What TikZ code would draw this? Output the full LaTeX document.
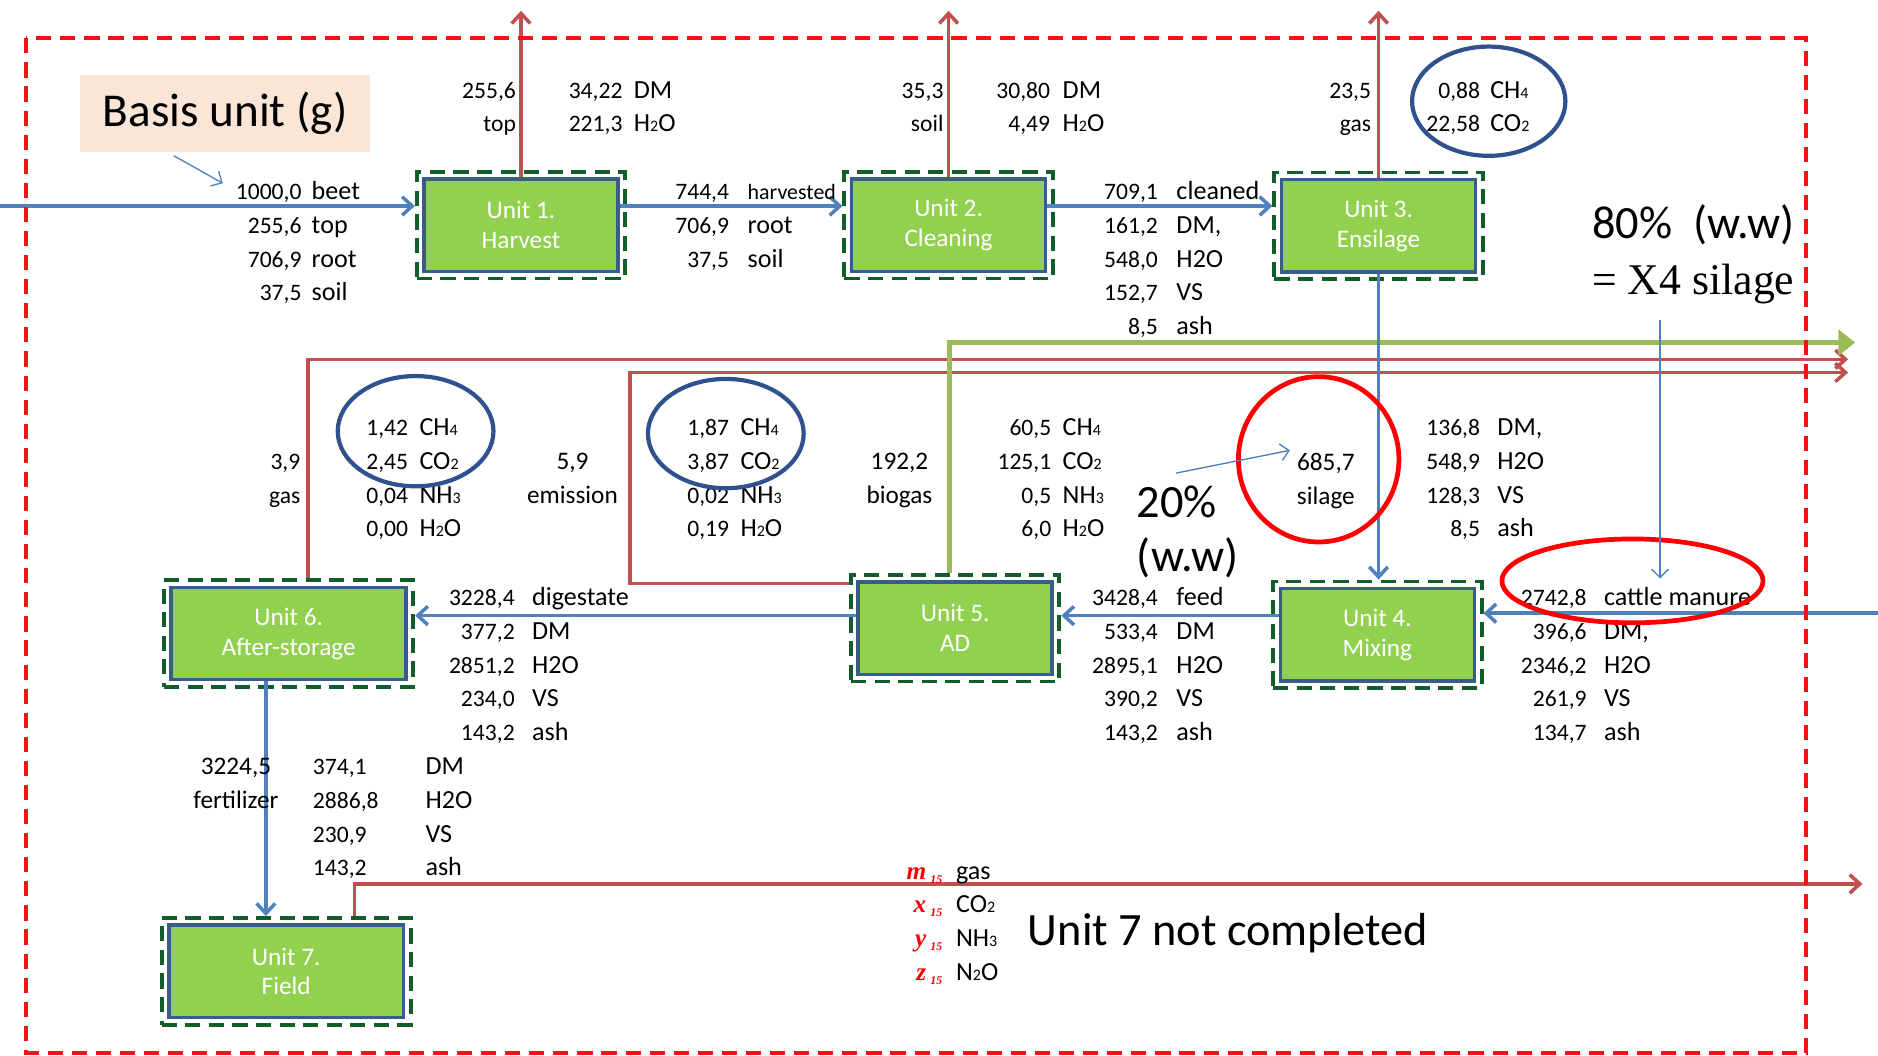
\documentclass[tikz,border=0pt]{standalone}
\usepackage{fontspec}
\setmainfont{Carlito}
\newfontfamily\serifface{Liberation Serif}
\usepackage{tikz}
\usetikzlibrary{arrows.meta,fit}

\definecolor{unitgreen}{RGB}{146,208,80}
\definecolor{unitblue}{RGB}{56,93,138}
\definecolor{framegreen}{RGB}{18,94,42}
\definecolor{borderred}{RGB}{240,20,20}
\definecolor{flowblue}{RGB}{79,129,189}
\definecolor{flowred}{RGB}{192,80,77}
\definecolor{flowgreen}{RGB}{155,187,89}
\definecolor{ringblue}{RGB}{47,82,143}
\definecolor{basisfill}{RGB}{251,229,214}
\definecolor{varred}{RGB}{255,0,0}

\newcommand{\numfont}{\fontsize{14}{20}\selectfont}
\newcommand{\labfont}{\fontsize{15.5}{20}\selectfont}
\newcommand{\bigfont}{\fontsize{27.5}{33}\selectfont}
\newcommand{\chsub}[1]{{\fontsize{9.5}{9.5}\selectfont #1}}
\newcommand{\varsym}[1]{{\color{varred}\serifface\bfseries\itshape #1\,\raisebox{-2.5pt}{\fontsize{7}{7}\selectfont 15}}}

\tikzset{
	unitbox/.style={draw=unitblue, line width=2.1pt, fill=unitgreen, text=white, align=center,
		minimum width=4.05cm, minimum height=1.925cm, font=\fontsize{15}{17.7}\selectfont},
	unitframe/.style={draw=framegreen, line width=2.3pt, dash pattern=on 9pt off 5pt, inner sep=3.2pt},
	basisbox/.style={fill=basisfill, minimum width=6.05cm, minimum height=1.6cm, font=\fontsize{28}{32}\selectfont},
	numcol/.style={font=\numfont, align=right, anchor=base east, inner sep=0pt},
	labcol/.style={font=\labfont, align=left, anchor=base west, inner sep=0pt},
	midcol/.style={font=\fontsize{15}{20}\selectfont, align=center, anchor=base, inner sep=0pt},
	bigtext/.style={font=\bigfont, anchor=west, inner sep=0pt},
	flow/.style={draw=flowblue, line width=2.1pt, -{Straight Barb[length=6pt,width=11pt]}},
	emit/.style={draw=flowred, line width=2.1pt, -{Straight Barb[length=6pt,width=11pt]}},
	biogas/.style={draw=flowgreen, line width=3.2pt, -{Triangle[length=10pt,width=15pt]}},
	hint/.style={draw=flowblue, line width=0.8pt, -{Straight Barb[length=5pt,width=10pt]}},
	ring/.style={draw=ringblue, line width=2.5pt},
	redring/.style={draw=red, line width=2.8pt},
	border/.style={draw=borderred, line width=2.3pt, dash pattern=on 9pt off 5.3pt}
}

\begin{document}
\begin{tikzpicture}[x=0.025cm,y=-0.025cm]
	\useasboundingbox (0,0) rectangle (1568,881);

	\node[basisbox] (basis) at (188,94.5) {Basis unit (g)};

	% units
	\node[unitbox] (u1) at (435,188) {Unit 1.\\Harvest};
	\node[unitbox] (u2) at (792,188) {Unit 2.\\Cleaning};
	\node[unitbox] (u3) at (1151,188.5) {Unit 3.\\Ensilage};
	\node[unitbox] (u4) at (1150,530) {Unit 4.\\Mixing};
	\node[unitbox] (u5) at (797.5,524.5) {Unit 5.\\AD};
	\node[unitbox,minimum width=4.9cm] (u6) at (241,529) {Unit 6.\\After-storage};
	\node[unitbox,minimum width=4.9cm] (u7) at (239,811) {Unit 7.\\Field};
	\foreach \i in {1,...,7}
		\node[unitframe,fit=(u\i)] (f\i) {};

	\coordinate (row1) at (0,172);
	\coordinate (row5) at (0,514);
	\coordinate (sky) at (0,9);
	\coordinate (beetin) at (0,172);
	\coordinate (manin) at (1568,512);
	\coordinate (x67) at (222,0);
	\coordinate (g6) at (257,300);
	\coordinate (g6end) at (1543,300);
	\coordinate (e5low) at (526,487);
	\coordinate (e5) at (526,311);
	\coordinate (e5end) at (1543,311);
	\coordinate (bg) at (793,286);
	\coordinate (bgend) at (1549,286);
	\coordinate (g7) at (296,738);
	\coordinate (g7end) at (1555,738);

	% streams out
	\draw[emit] (u1.north) -- (u1.north |- sky);
	\draw[emit] (u2.north) -- (u2.north |- sky);
	\draw[emit] (u3.north) -- (u3.north |- sky);
	\draw[emit] (f6.north -| g6) -- (g6) -- (g6end);
	\draw[emit] (f5.west |- e5low) -- (e5low) -- (e5) -- (e5end);
	\draw[emit] (f7.north -| g7) -- (g7) -- (g7end);
	\draw[biogas] (f5.north -| bg) -- (bg) -- (bgend);

	% main flow
	\draw[flow] (beetin) -- (f1.west |- beetin);
	\draw[flow] (u1.east |- row1) -- (f2.west |- row1);
	\draw[flow] (u2.east |- row1) -- (f3.west |- row1);
	\draw[flow] (u3.south) -- (f4.north -| u3.south);
	\draw[flow] (manin) -- (f4.east |- manin);
	\draw[flow] (u4.west |- row5) -- (f5.east |- row5);
	\draw[flow] (u5.west |- row5) -- (f6.east |- row5);
	\draw[flow] (u6.south -| x67) -- (f7.north -| x67);

	% values (y = baseline of the last row)
	\node[numcol] (inval) at (252,251.3) {1000,0\\255,6\\706,9\\37,5};
	\node[labcol] (inlab) at (260,251.3) {beet\\top\\root\\soil};

	\node[numcol] (u1outa) at (431,110.1) {255,6\\top};
	\node[numcol] (u1outb) at (520,110.1) {34,22\\221,3};
	\node[labcol] (u1outl) at (529,110.1) {DM\\H\chsub{2}O};

	\node[numcol] (u12val) at (609,223.2) {744,4\\706,9\\37,5};
	\node[labcol] (u12lab) at (624,223.2) {{\fontsize{13}{20}\selectfont harvested}\\root\\soil};

	\node[numcol] (u2outa) at (788,110.1) {35,3\\soil};
	\node[numcol] (u2outb) at (877,110.1) {30,80\\4,49};
	\node[labcol] (u2outl) at (887,110.1) {DM\\H\chsub{2}O};

	\node[numcol] (u23val) at (967,279.4) {709,1\\161,2\\548,0\\152,7\\8,5};
	\node[labcol] (u23lab) at (982,279.4) {cleaned\\DM,\\H2O\\VS\\ash};

	\node[numcol] (u3outa) at (1145,110.1) {23,5\\gas};
	\node[numcol] (u3outb) at (1236,110.1) {0,88\\22,58};
	\node[labcol] (u3outl) at (1244,110.1) {CH\chsub{4}\\CO\chsub{2}};

	\node[numcol] (u6gas) at (251,420.1) {3,9\\gas};
	\node[numcol] (u6val) at (341,448.3) {1,42\\2,45\\0,04\\0,00};
	\node[labcol] (u6lab) at (350,448.3) {CH\chsub{4}\\CO\chsub{2}\\NH\chsub{3}\\H\chsub{2}O};

	\node[midcol] (u5em) at (478,420.1) {5,9\\emission};
	\node[numcol] (u5val) at (609,448.3) {1,87\\3,87\\0,02\\0,19};
	\node[labcol] (u5lab) at (618,448.3) {CH\chsub{4}\\CO\chsub{2}\\NH\chsub{3}\\H\chsub{2}O};

	\node[midcol] (bgtot) at (751,420.1) {192,2\\biogas};
	\node[numcol] (bgval) at (878,448.3) {60,5\\125,1\\0,5\\6,0};
	\node[labcol] (bglab) at (887,448.3) {CH\chsub{4}\\CO\chsub{2}\\NH\chsub{3}\\H\chsub{2}O};

	\node[midcol] (silage) at (1107,421.1) {685,7\\silage};
	\node[numcol] (silval) at (1236,448.3) {136,8\\548,9\\128,3\\8,5};
	\node[labcol] (sillab) at (1250,448.3) {DM,\\H2O\\VS\\ash};

	\node[numcol] (digval) at (430,618.4) {3228,4\\377,2\\2851,2\\234,0\\143,2};
	\node[labcol] (diglab) at (444,618.4) {digestate\\DM\\H2O\\VS\\ash};

	\node[numcol] (feedval) at (967,618.4) {3428,4\\533,4\\2895,1\\390,2\\143,2};
	\node[labcol] (feedlab) at (982,618.4) {feed\\DM\\H2O\\VS\\ash};

	\node[numcol] (manval) at (1325,618.4) {2742,8\\396,6\\2346,2\\261,9\\134,7};
	\node[labcol] (manlab) at (1339,618.4) {cattle manure\\DM,\\H2O\\VS\\ash};

	\node[midcol] (fert) at (197,675.1) {3224,5\\fertilizer};
	\node[labcol,font=\numfont] (fertval) at (261,731.3) {374,1\\2886,8\\230,9\\143,2};
	\node[labcol] (fertlab) at (355,731.3) {DM\\H2O\\VS\\ash};

	\node[numcol,font=\fontsize{15}{20}\selectfont] (u7var) at (787,818.3) {\varsym{m}\\\varsym{x}\\\varsym{y}\\\varsym{z}};
	\node[labcol] (u7lab) at (798,818.3) {gas\\CO\chsub{2}\\NH\chsub{3}\\N\chsub{2}O};

	% notes
	\node[bigtext] (eighty) at (1329,188) {80\%\ \ (w.w)};
	\node[bigtext,font=\serifface\fontsize{26}{30}\selectfont] (xfour) at (1329,237) {= X4 silage};
	\node[bigtext] (twenty) at (949,419) {20\%};
	\node[bigtext] (ww) at (949,466) {(w.w)};
	\node[bigtext] (note7) at (858,779) {Unit 7 not completed};

	% rings
	\draw[ring] (1243,84.5) ellipse [x radius=1.6cm, y radius=1.14cm];
	\draw[ring] (347,360) ellipse [x radius=1.625cm, y radius=1.15cm];
	\draw[ring] (606,362) ellipse [x radius=1.625cm, y radius=1.14cm];
	\draw[redring] (1101,383.5) ellipse [x radius=1.675cm, y radius=1.725cm];
	\draw[redring] (1363,485) ellipse [x radius=2.725cm, y radius=0.875cm];

	% pointers
	\coordinate (bfrom) at (145,130);
	\coordinate (bto) at (186,153);
	\coordinate (pfrom) at (982,395);
	\coordinate (pto) at (1077,376);
	\coordinate (xfrom) at (1386,267);
	\coordinate (xto) at (1386,483);
	\draw[hint] (bfrom) -- (bto);
	\draw[hint] (pfrom) -- (pto);
	\draw[hint] (xfrom) -- (xto);

	\draw[border] (22,32) rectangle (1508,879);
\end{tikzpicture}
\end{document}
